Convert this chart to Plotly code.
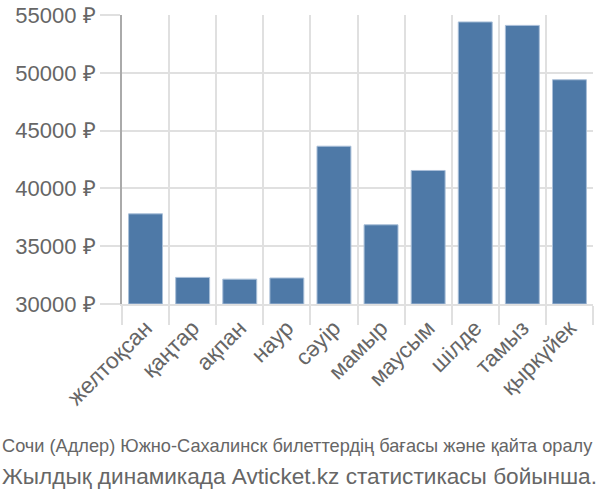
import plotly.graph_objects as go

months = ["желтоқсан", "қаңтар", "ақпан", "наур", "сәуір", "мамыр",
          "маусым", "шілде", "тамыз", "қыркүйек"]
prices = [37800, 32300, 32150, 32250, 43650, 36850, 41550, 54400, 54100, 49400]
y_ticks = [30000, 35000, 40000, 45000, 50000, 55000]
y_tick_text = ["30000 ₽", "35000 ₽", "40000 ₽", "45000 ₽", "50000 ₽", "55000 ₽"]
caption1 = "Сочи (Адлер) Южно-Сахалинск билеттердің бағасы және қайта оралу"
caption2 = "Жылдық динамикада Avticket.kz статистикасы бойынша."

fig = go.Figure(go.Bar(
    x=months, y=[p - 30000 for p in prices], base=30000,
    marker=dict(color="#4e79a7", line=dict(color="#a9bfd8", width=1)),
    width=0.72,
))

font = "Liberation Sans, Arial, sans-serif"
L, R, T, B = 122, 7, 15, 196
plot_w = 600 - L - R
plot_h = 500 - T - B

fig.update_layout(
    width=600, height=500,
    margin=dict(l=L, r=R, t=T, b=B, autoexpand=False),
    plot_bgcolor="white", paper_bgcolor="white",
    showlegend=False,
    font=dict(family=font, color="#666666", size=22),
    xaxis=dict(
        automargin=False,
        tickson="boundaries", showgrid=True, gridcolor="#e0e0e0", gridwidth=2,
        ticks="outside", ticklen=19, tickcolor="#e0e0e0", tickwidth=2,
        tickangle=-45, tickfont=dict(size=22.5, color="#666666"),
        showline=True, linecolor="#e0e0e0", linewidth=2,
        range=[-0.5, 9.5],
    ),
    yaxis=dict(
        automargin=False,
        range=[30000, 55000], tickvals=y_ticks, ticktext=y_tick_text,
        showgrid=True, gridcolor="#e0e0e0", gridwidth=2,
        ticks="outside", ticklen=20, tickcolor="#e0e0e0", tickwidth=2,
        tickfont=dict(size=22, color="#666666"),
        showline=True, linecolor="#aaaaaa", linewidth=2, zeroline=False,
    ),
    annotations=[
        dict(text=caption1, x=-L / plot_w, y=-(446 - 304) / plot_h,
             xref="paper", yref="paper", showarrow=False,
             xanchor="left", yanchor="middle",
             font=dict(family=font, size=18.2, color="#666666")),
        dict(text=caption2, x=-L / plot_w, y=-(476 - 304) / plot_h,
             xref="paper", yref="paper", showarrow=False,
             xanchor="left", yanchor="middle",
             font=dict(family=font, size=22.6, color="#666666")),
    ],
)

fig.write_html("out.html")
